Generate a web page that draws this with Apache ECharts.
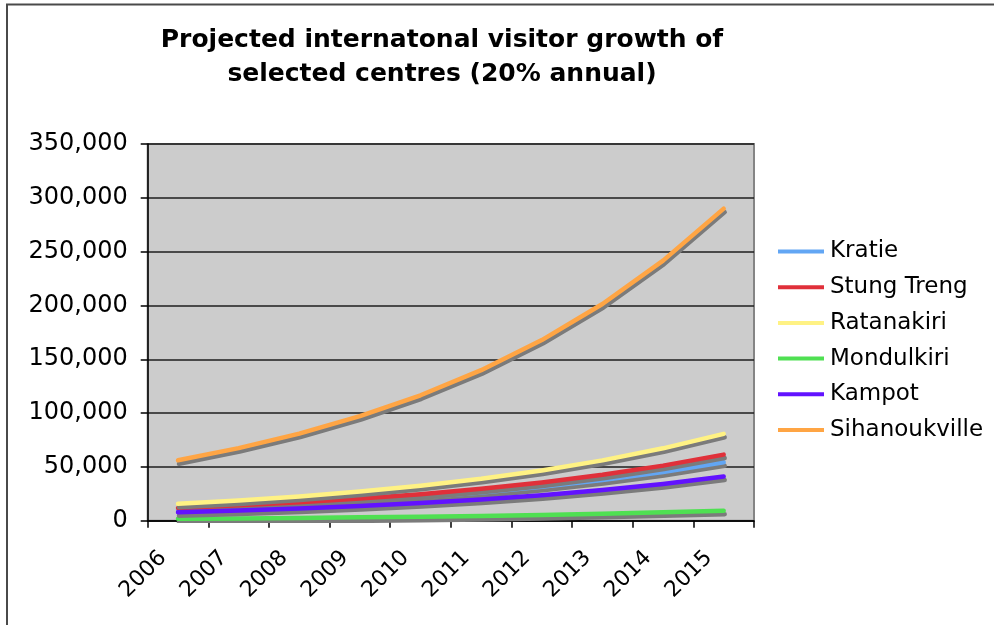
<!DOCTYPE html>
<html>
<head>
<meta charset="utf-8">
<script src="https://cdn.jsdelivr.net/npm/echarts@6/dist/echarts.min.js"></script>
<style>
  html, body { margin: 0; padding: 0; background: #ffffff; }
  #chart { width: 994px; height: 625px; }
</style>
</head>
<body>
<div id="chart"></div>
<script>
// Projected international visitors per centre, 2006-2015 (20% annual growth)
const years = ['2006', '2007', '2008', '2009', '2010', '2011', '2012', '2013', '2014', '2015'];
const kratie        = [10520, 12630, 15150, 18180, 21820, 26180, 31420, 37700, 45240, 54290];
const stungTreng    = [11900, 14280, 17140, 20560, 24680, 29610, 35530, 42640, 51170, 61400];
const ratanakiri    = [15640, 18770, 22520, 27030, 32430, 38920, 46700, 56040, 67250, 80700];
const mondulkiri    = [1800, 2160, 2600, 3110, 3730, 4480, 5380, 6450, 7740, 9290];
const kampot        = [7950, 9540, 11440, 13730, 16480, 19780, 23730, 28480, 34170, 41010];
const sihanoukville = [56200, 67440, 80930, 97110, 116530, 139840, 167810, 201370, 241640, 289970];
const yTicks = [0, 50000, 100000, 150000, 200000, 250000, 300000, 350000];

const seriesDefs = [
  { name: 'Kratie', data: kratie, color: '#62a6f4' },
  { name: 'Stung Treng', data: stungTreng, color: '#e0303a' },
  { name: 'Ratanakiri', data: ratanakiri, color: '#fff284' },
  { name: 'Mondulkiri', data: mondulkiri, color: '#4fe052' },
  { name: 'Kampot', data: kampot, color: '#6212ff' },
  { name: 'Sihanoukville', data: sihanoukville, color: '#ffa544' }
];

const FONT = '"DejaVu Sans", Verdana, sans-serif';
const chart = echarts.init(document.getElementById('chart'), null, { renderer: 'canvas' });

chart.setOption({
  animation: false,
  backgroundColor: '#ffffff',
  graphic: [
    {
      type: 'line',
      shape: { x1: 6, y1: 4.5, x2: 994, y2: 4.5 },
      style: { stroke: '#4a4a4a', lineWidth: 2 },
      silent: true
    },
    {
      type: 'line',
      shape: { x1: 7, y1: 4, x2: 7, y2: 625 },
      style: { stroke: '#4a4a4a', lineWidth: 2 },
      silent: true
    }
  ],
  title: {
    text: 'Projected internatonal visitor growth of\nselected centres (20% annual)',
    left: 442,
    top: 23,
    padding: 0,
    textAlign: 'center',
    textStyle: {
      fontFamily: FONT,
      fontSize: 25,
      fontWeight: 'bold',
      color: '#000000',
      lineHeight: 34
    }
  },
  legend: {
    orient: 'vertical',
    left: 778,
    top: 240,
    padding: 0,
    icon: 'rect',
    itemWidth: 46,
    itemHeight: 4,
    itemGap: 12.7,
    textStyle: { fontFamily: FONT, fontSize: 23, color: '#000000', lineHeight: 23, padding: [0, 0, 0, 1] },
    data: seriesDefs.map(s => s.name)
  },
  grid: {
    left: 147.7,
    top: 144,
    right: 240,
    bottom: 104.3,
    show: true,
    backgroundColor: '#cccccc',
    borderColor: '#858585',
    borderWidth: 2
  },
  xAxis: {
    type: 'category',
    data: years,
    boundaryGap: true,
    axisLine: { lineStyle: { color: '#000000', width: 1.5 } },
    axisTick: { show: true, length: 7, inside: false, lineStyle: { color: '#000000', width: 1.5 } },
    axisLabel: {
      rotate: 45,
      margin: 19,
      padding: [0, 21, 0, 0],
      fontFamily: FONT,
      fontSize: 22,
      color: '#000000',
      interval: 0
    },
    splitLine: { show: false }
  },
  yAxis: {
    type: 'value',
    min: yTicks[0],
    max: yTicks[yTicks.length - 1],
    interval: 50000,
    axisLine: { show: true, lineStyle: { color: '#000000', width: 1.5 } },
    axisTick: { show: true, length: 7, lineStyle: { color: '#000000', width: 1.5 } },
    axisLabel: {
      margin: 20,
      fontFamily: FONT,
      fontSize: 24,
      color: '#000000',
      formatter: v => v.toLocaleString('en-US')
    },
    splitLine: { show: true, lineStyle: { color: '#1e1e1e', width: 1.5 } }
  },
  series: seriesDefs.map(s => ({
    name: s.name,
    type: 'line',
    data: s.data,
    showSymbol: false,
    symbol: 'none',
    color: s.color,
    lineStyle: {
      color: s.color,
      width: 4.5,
      shadowColor: '#7b7b7b',
      shadowBlur: 0,
      shadowOffsetX: 1,
      shadowOffsetY: 3.5,
      cap: 'round',
      join: 'round'
    }
  }))
});
</script>
</body>
</html>
